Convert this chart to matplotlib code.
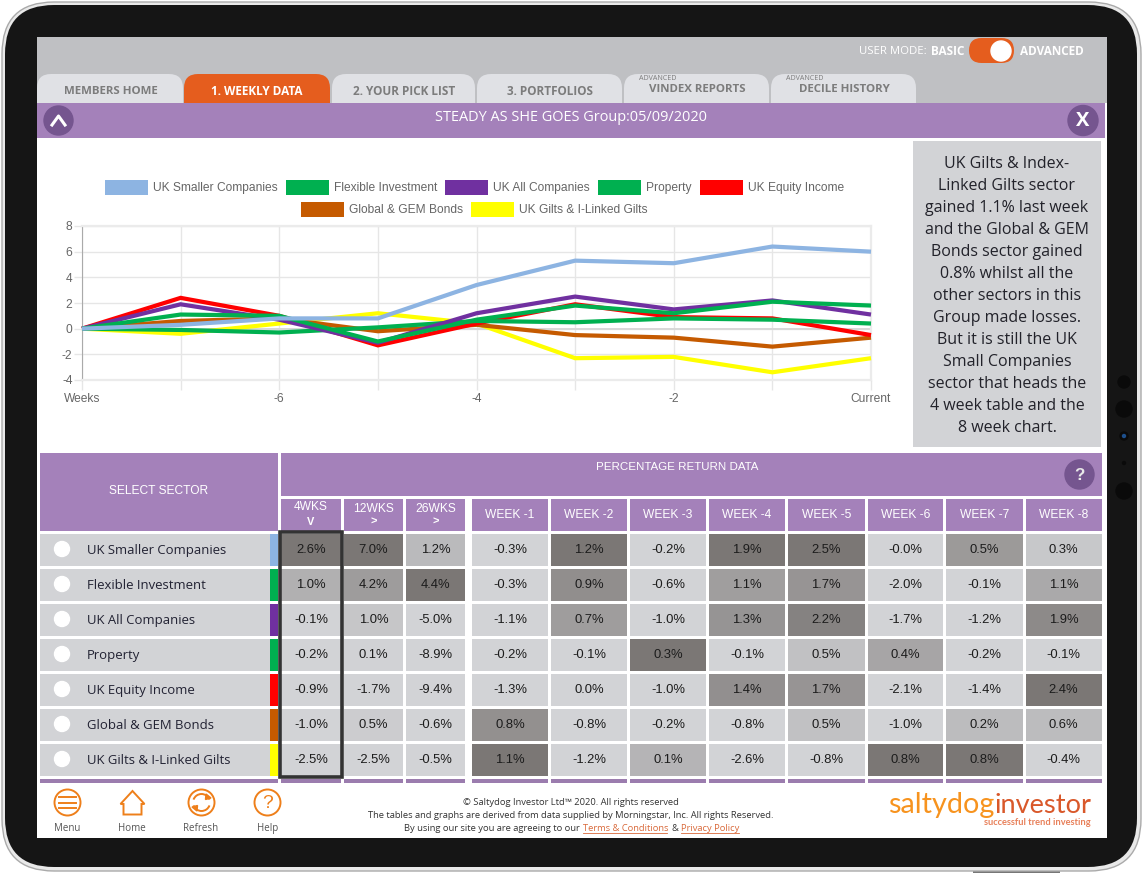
import matplotlib
matplotlib.use("Agg")
import matplotlib.pyplot as plt
from matplotlib.patches import Rectangle, Circle, FancyBboxPatch, Polygon, Arc

W, H = 1143, 873

# Series for the line chart, cumulative return per week
week_labels = ["Weeks", "", "-6", "", "-4", "", "-2", "", "Current"]
sectors = ["UK Smaller Companies", "Flexible Investment", "UK All Companies", "Property",
           "UK Equity Income", "Global & GEM Bonds", "UK Gilts & I-Linked Gilts"]
sector_colors = ["#8db4e2", "#00b050", "#7030a0", "#00b050", "#ff0000", "#c55a00", "#ffff00"]
smaller = [0, 0.3, 0.8, 0.8, 3.4, 5.3, 5.1, 6.4, 6.0]
flexible = [0, 1.1, 1.0, -1.0, 0.7, 1.8, 1.2, 2.1, 1.8]
all_comp = [0, 1.9, 0.7, -1.1, 1.2, 2.5, 1.5, 2.2, 1.1]
property_ = [0, -0.1, -0.3, 0.1, 0.6, 0.5, 0.8, 0.7, 0.4]
equity = [0, 2.4, 1.0, -1.3, 0.4, 1.9, 0.9, 0.8, -0.5]
global_gem = [0, 0.6, 0.8, -0.2, 0.3, -0.5, -0.7, -1.4, -0.7]
gilts = [0, -0.4, 0.4, 1.2, 0.4, -2.3, -2.2, -3.4, -2.3]
chart_series = [smaller, flexible, all_comp, property_, equity, global_gem, gilts]

# Table values
col_labels = ["4WKS", "12WKS", "26WKS", "WEEK -1", "WEEK -2", "WEEK -3", "WEEK -4", "WEEK -5",
              "WEEK -6", "WEEK -7", "WEEK -8"]
row_smaller = [2.6, 7.0, 1.2, -0.3, 1.2, -0.2, 1.9, 2.5, -0.0, 0.5, 0.3]
row_flexible = [1.0, 4.2, 4.4, -0.3, 0.9, -0.6, 1.1, 1.7, -2.0, -0.1, 1.1]
row_all = [-0.1, 1.0, -5.0, -1.1, 0.7, -1.0, 1.3, 2.2, -1.7, -1.2, 1.9]
row_property = [-0.2, 0.1, -8.9, -0.2, -0.1, 0.3, -0.1, 0.5, 0.4, -0.2, -0.1]
row_equity = [-0.9, -1.7, -9.4, -1.3, 0.0, -1.0, 1.4, 1.7, -2.1, -1.4, 2.4]
row_global = [-1.0, 0.5, -0.6, 0.8, -0.8, -0.2, -0.8, 0.5, -1.0, 0.2, 0.6]
row_gilts = [-2.5, -2.5, -0.5, 1.1, -1.2, 0.1, -2.6, -0.8, 0.8, 0.8, -0.4]
table_rows = [row_smaller, row_flexible, row_all, row_property, row_equity, row_global, row_gilts]

comment_lines = ["UK Gilts & Index-", "Linked Gilts sector", "gained 1.1% last week",
                 "and the Global & GEM", "Bonds sector gained", "0.8% whilst all the",
                 "other sectors in this", "Group made losses.", "But it is still the UK",
                 "Small Companies", "sector that heads the", "4 week table and the", "8 week chart."]

PURPLE = "#a481ba"
DARK_PURPLE = "#75558f"
ORANGE = "#e55d1e"
ICON = "#ee7f1a"
GREY = "#d2d3d6"
OPEN = "Open Sans"
ARIAL = "Liberation Sans"


def px(size):
    return size * 0.72


fig = plt.figure(figsize=(W / 100, H / 100), dpi=100, facecolor="white")
ui = fig.add_axes([0, 0, 1, 1])
ui.set_xlim(0, W)
ui.set_ylim(H, 0)
ui.axis("off")


def rect(x0, y0, x1, y1, color, z=1, **kw):
    ui.add_patch(Rectangle((x0, y0), x1 - x0, y1 - y0, facecolor=color, edgecolor="none", zorder=z, **kw))


def rounded(x0, y0, x1, y1, r, color, z=1, edge="none", lw=0):
    ui.add_patch(FancyBboxPatch((x0, y0), x1 - x0, y1 - y0, boxstyle=f"round,pad=0,rounding_size={r}",
                                facecolor=color, edgecolor=edge, linewidth=lw, zorder=z))


def label(x, y, s, size, color="#333333", family=OPEN, ha="center", weight="normal", z=5):
    # matplotlib centres a little high compared with the browser text
    dy = 1.8 if family == OPEN else 1
    return ui.text(x, y + dy, s, fontsize=px(size), color=color, family=family, ha=ha, va="center",
                   fontweight=weight, zorder=z)


# tablet body
rect(973, 868, 1060, 873, "#777777", z=0)
rounded(2, 2, 1141, 871, 52, "#e9e9e9", z=0.5, edge="#aaaaaa", lw=1)
rounded(5, 5, 1137, 867, 49, "#151515", z=0.6)
for y, r in [(382, 6), (409, 8), (436, 4), (463, 1.5), (491, 8)]:
    ui.add_patch(Circle((1124, y), r, color="#0a0a0a", zorder=1))
ui.add_patch(Circle((1124, 436), 1.5, color="#1d4f8c", zorder=1.1))
rect(37, 37, 1107, 838, "white", z=0.8)

# top bar and tabs
rect(37, 37, 1107, 103, "#bfc0c3", z=0.9)
tabs = [(37, 183, "#e0e1e5"), (184, 330, ORANGE), (332, 475, "#e0e1e5"), (477, 622, "#e0e1e5"),
        (624, 769, "#e0e1e5"), (771, 916, "#e0e1e5")]
for x0, x1, c in tabs:
    rounded(x0, 74, x1, 125, 14, c, z=1)
label(110.5, 89.5, "MEMBERS HOME", 11.5, "#7c7c7c", weight="bold")
label(257, 89.5, "1. WEEKLY DATA", 11.7, "white", weight="bold")
label(404, 89.5, "2. YOUR PICK LIST", 11.7, "#7c7c7c", weight="bold")
label(550, 89.5, "3. PORTFOLIOS", 11.7, "#7c7c7c", weight="bold")
label(697, 87.5, "VINDEX REPORTS", 11.5, "#7c7c7c", weight="bold")
label(844, 87.5, "DECILE HISTORY", 11.5, "#7c7c7c", weight="bold")
label(658, 76.5, "ADVANCED", 7.2, "#7c7c7c")
label(805, 76.5, "ADVANCED", 7.2, "#7c7c7c")
label(859, 50, "USER MODE:", 11.4, "white", ha="left")
label(931.5, 50, "BASIC", 11.8, "white", ha="left", weight="bold")
label(1020, 50, "ADVANCED", 11.7, "white", ha="left", weight="bold")
rounded(969, 38, 1014, 63, 12.5, ORANGE, z=2)
ui.add_patch(Circle((1001, 51), 10, color="white", zorder=3))

# title bar
rect(37, 103, 1105, 138, PURPLE, z=2)
label(571, 115.5, "STEADY AS SHE GOES Group:05/09/2020", 14.5, "white")
ui.add_patch(Circle((58.5, 120.5), 14.5, color=DARK_PURPLE, zorder=3))
ui.plot([52, 58.5, 65], [125, 116, 125], color="white", lw=2.2, zorder=4)
ui.add_patch(Circle((1083, 120.5), 15, color=DARK_PURPLE, zorder=3))
label(1083, 119.5, "X", 20, "white", weight="bold")

# line chart
left, right, top, bottom = 82, 871, 226, 380
chart = fig.add_axes([left / W, 1 - bottom / H, (right - left) / W, (bottom - top) / H], zorder=2)
chart.patch.set_alpha(0)
chart.set_xlim(0, 8)
chart.set_ylim(-4, 8)
chart.set_xticks(range(9))
chart.set_xticklabels(week_labels, family=ARIAL, fontsize=px(12), color="#666666")
chart.set_yticks(range(-4, 9, 2))
chart.set_yticklabels([str(v) for v in range(-4, 9, 2)], family=ARIAL, fontsize=px(12), color="#666666")
chart.tick_params(axis="x", length=px(10), width=1, color="#e6e6e6", pad=2)
chart.tick_params(axis="y", length=px(8), width=1, color="#e6e6e6", pad=1)
chart.grid(True, color="#e6e6e6", lw=1)
chart.set_axisbelow(True)
for s in ["top", "right", "bottom"]:
    chart.spines[s].set_color("#ebebeb")
    chart.spines[s].set_linewidth(1.6)
chart.spines["left"].set_color("#aaaaaa")
chart.axhline(0, color="#d8d8d8", lw=1.4, zorder=1)
n = len(chart_series)
for i, (vals, c) in enumerate(zip(chart_series, sector_colors)):
    chart.plot(range(9), vals, color=c, lw=px(4.2), zorder=3 + n - i, solid_joinstyle="miter",
               solid_capstyle="butt", clip_on=False)

# legend
legend_pos = [(105, 187.5), (286, 187.5), (445, 187.5), (598, 187.5), (700, 187.5), (301, 209.5), (471, 209.5)]
for name, c, (x, y) in zip(sectors, sector_colors, legend_pos):
    rect(x, y - 7.5, x + 43, y + 7.5, c, z=2)
    label(x + 48, y - 0.5, name, 12, "#666666", family=ARIAL, ha="left")

# comment panel
rect(913, 141, 1101, 447, GREY)
for i, line in enumerate(comment_lines):
    label(1007, 162 + i * 22, line, 16, "#22222a")

# table header
col_x = [(281, 341), (344, 403), (406, 465), (472, 548), (551, 627), (630, 706), (709, 785),
         (788, 864.5), (867.5, 943), (946, 1022.5), (1025.5, 1101.5)]
rect(40, 453, 278, 531, PURPLE)
rect(281, 453, 1101.5, 496, PURPLE)
label(159, 490.5, "SELECT SECTOR", 12, "white", family=ARIAL)
label(677, 466, "PERCENTAGE RETURN DATA", 11.5, "white", family=ARIAL)
ui.add_patch(Circle((1079.5, 474.5), 14.5, color=DARK_PURPLE, zorder=3))
label(1079.5, 474, "?", 17, "#e8e8e8", family=ARIAL, weight="bold")
for j, (x0, x1) in enumerate(col_x):
    rect(x0, 499, x1, 531, PURPLE)
    xc = (x0 + x1) / 2
    if j < 3:
        label(xc, 506.5 if j == 0 else 507.5, col_labels[j], 12, "white", family=ARIAL)
        label(xc, 521, "V" if j == 0 else ">", 11, "white", family=ARIAL, weight="bold")
    else:
        label(xc, 513.5, col_labels[j], 12, "white", family=ARIAL)

# table body, positive cells shaded against the largest in their column
base = (0xd2, 0xd3, 0xd6)
dark = (0x7b, 0x77, 0x75)
for i, (name, vals, c) in enumerate(zip(sectors, table_rows, sector_colors)):
    y0 = 534 + 35 * i
    rect(40, y0, 270, y0 + 32, GREY)
    rect(270, y0, 277.5, y0 + 32, c)
    ui.add_patch(Circle((62, y0 + 15), 7.5, color="white", zorder=3))
    label(87, y0 + 15, name, 13.1, "#222233", ha="left")
    for j, v in enumerate(vals):
        colmax = max(r[j] for r in table_rows)
        t = max(v, 0) / colmax
        shade = tuple((b + (d - b) * t) / 255 for b, d in zip(base, dark))
        x0, x1 = col_x[j]
        rect(x0, y0, x1, y0 + 32, shade)
        label((x0 + x1) / 2, y0 + 15, f"{v:.1f}%", 13, "#1c1c1c", family=ARIAL)

# strip under the table
rect(40, 779, 278, 783, "#9b7cae")
for x0, x1 in col_x:
    rect(x0, 779, x1, 783, "#9b7cae")
ui.add_patch(Rectangle((279.5, 532), 62.5, 245, fill=False, edgecolor="#333333", linewidth=px(3.6), zorder=6))

# footer icons
for x in [67.5, 201.5, 267.5]:
    ui.add_patch(Circle((x, 802.5), 13, fill=False, edgecolor=ICON, linewidth=1.4, zorder=3))
for dy in [-5.5, 0, 5.5]:
    ui.plot([59, 76], [802.5 + dy, 802.5 + dy], color=ICON, lw=1.4, zorder=3)
ui.add_patch(Polygon([(120.5, 804), (132.5, 791), (144.5, 804), (141.5, 804), (141.5, 814.5),
                      (123.5, 814.5), (123.5, 804)], closed=True, fill=False, edgecolor=ICON, lw=1.4, zorder=3))
ui.add_patch(Arc((201.5, 802.5), 17, 17, theta1=200, theta2=340, color=ICON, lw=1.4, zorder=3))
ui.add_patch(Arc((201.5, 802.5), 17, 17, theta1=20, theta2=160, color=ICON, lw=1.4, zorder=3))
ui.add_patch(Polygon([(206, 794), (211, 798), (205.5, 799.5)], color=ICON, zorder=3))
ui.add_patch(Polygon([(197, 811), (192, 807), (197.5, 805.5)], color=ICON, zorder=3))
label(267.5, 802, "?", 19, ICON, family=ARIAL)
for x, s in [(67, "Menu"), (132, "Home"), (201, "Refresh"), (267.5, "Help")]:
    label(x, 826.5, s, 9.8, "#555555")

# footer text
label(571, 801, "© Saltydog Investor Ltd™ 2020. All rights reserved", 9.4, "#333333")
label(571, 814, "The tables and graphs are derived from data supplied by Morningstar, Inc. All rights Reserved.",
      9.4, "#333333")
label(404, 827, "By using our site you are agreeing to our", 9.4, "#333333", ha="left")
label(583, 827, "Terms & Conditions", 9.4, "#d9693a", ha="left")
label(671, 827, "&", 9.4, "#333333", ha="left")
label(681, 827, "Privacy Policy", 9.4, "#d9693a", ha="left")
ui.plot([583, 667], [833, 833], color="#d9693a", lw=0.6, zorder=5)
ui.plot([681, 739], [833, 833], color="#d9693a", lw=0.6, zorder=5)

# logo, set on its baseline so the tagline stays clear underneath
ui.text(888, 813, "saltydog", fontsize=px(28.8), color="#f7931e", family="Lato", ha="left", va="baseline", zorder=5)
ui.text(994, 813, "investor", fontsize=px(27.2), color="#d9582a", family="Lato", ha="left", va="baseline", zorder=5)
ui.text(1091, 825, "successful trend investing", fontsize=px(9.3), color="#e8805a", family="Lato", ha="right",
        va="baseline", fontweight="bold", zorder=5)

fig.savefig("out.png", dpi=100, facecolor="white")
